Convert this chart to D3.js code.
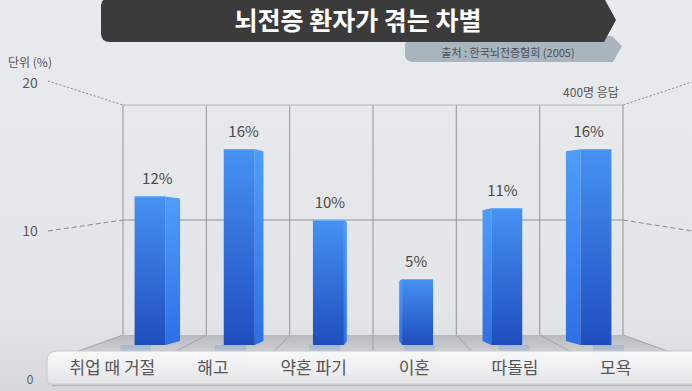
<!DOCTYPE html>
<html>
<head>
<meta charset="utf-8">
<script src="https://cdn.jsdelivr.net/npm/d3@7"></script>
<style>
  body { margin: 0; background: #e6e7ea; }
  svg { display: block; font-family: "Noto Sans CJK KR", "Noto Sans", sans-serif; }
</style>
</head>
<body>
<div id="chart"></div>
<script>
// Data
var categories = ["취업 때 거절", "해고", "약혼 파기", "이혼", "따돌림", "모욕"];
var values = [12, 16, 10, 5, 11, 16];
var yTicks = [0, 10, 20];
var titleText = "뇌전증 환자가 겪는 차별";
var sourceText = "출처 : 한국뇌전증협회 (2005)";
var unitText = "단위 (%)";
var noteText = "400명 응답";

var width = 692, height = 391;
var cx = 373; // vanishing centre of the perspective

var svg = d3.select("#chart").append("svg")
    .attr("width", width)
    .attr("height", height);

var defs = svg.append("defs");

var bg = defs.append("linearGradient").attr("id", "bg").attr("x1", 0).attr("y1", 0).attr("x2", 0).attr("y2", 1);
bg.append("stop").attr("offset", "0%").attr("stop-color", "#e9eaed");
bg.append("stop").attr("offset", "80%").attr("stop-color", "#e4e5e8");
bg.append("stop").attr("offset", "100%").attr("stop-color", "#d6d7da");

var front = defs.append("linearGradient").attr("id", "front").attr("x1", 0).attr("y1", 0).attr("x2", 0).attr("y2", 1);
front.append("stop").attr("offset", "0%").attr("stop-color", "#4692f2");
front.append("stop").attr("offset", "100%").attr("stop-color", "#1f4dbd");

var side = defs.append("linearGradient").attr("id", "side").attr("x1", 0).attr("y1", 0).attr("x2", 0).attr("y2", 1);
side.append("stop").attr("offset", "0%").attr("stop-color", "#4f9dfb");
side.append("stop").attr("offset", "100%").attr("stop-color", "#2f6ee6");

var floorG = defs.append("linearGradient").attr("id", "floor").attr("x1", 0).attr("y1", 0).attr("x2", 0).attr("y2", 1);
floorG.append("stop").attr("offset", "0%").attr("stop-color", "#b9babd");
floorG.append("stop").attr("offset", "100%").attr("stop-color", "#cfd0d3");

var band = defs.append("linearGradient").attr("id", "band").attr("x1", 0).attr("y1", 0).attr("x2", 0).attr("y2", 1);
band.append("stop").attr("offset", "0%").attr("stop-color", "#fbfbfb");
band.append("stop").attr("offset", "60%").attr("stop-color", "#efeff0");
band.append("stop").attr("offset", "100%").attr("stop-color", "#e2e3e5");

var refl = defs.append("linearGradient").attr("id", "refl").attr("x1", 0).attr("y1", 0).attr("x2", 0).attr("y2", 1);
refl.append("stop").attr("offset", "0%").attr("stop-color", "#6f9be0").attr("stop-opacity", 0.35);
refl.append("stop").attr("offset", "100%").attr("stop-color", "#6f9be0").attr("stop-opacity", 0);

svg.append("rect").attr("width", width).attr("height", height).attr("fill", "url(#bg)");

// Scales: back wall plane, front (bar) plane and label band
var xWall = d3.scaleBand().domain(categories).range([123, 623]);
var xFront = d3.scaleBand().domain(categories).range([cx - 250 * 1.07, cx + 250 * 1.07]);
var xLabel = d3.scaleBand().domain(categories).range([62, 666]);
var yWall = d3.scaleLinear().domain([0, 20]).range([335, 105]);
var yFront = d3.scaleLinear().domain([0, 20]).range([338, 102]);
var barBottom = 345;
var frontW = 31;

// Floor
var floorY = 353;
var fk = 1.2;
svg.append("path")
    .attr("d", "M" + xWall.range()[0] + "," + yWall(0) +
        "L" + xWall.range()[1] + "," + yWall(0) +
        "L" + (cx + (xWall.range()[1] - cx) * fk) + "," + floorY +
        "L" + (cx + (xWall.range()[0] - cx) * fk) + "," + floorY + "Z")
    .attr("fill", "url(#floor)");

var wallLines = categories.map(function (c) { return xWall(c); }).concat([xWall.range()[1]]);

svg.selectAll(".floor-line").data(wallLines).enter().append("line")
    .attr("class", "floor-line")
    .attr("x1", function (d) { return d; })
    .attr("y1", yWall(0))
    .attr("x2", function (d) { return cx + (d - cx) * fk; })
    .attr("y2", floorY)
    .attr("stroke", "#a4a5a8").attr("stroke-width", 1);

// Back wall grid
svg.selectAll(".wall-v").data(wallLines).enter().append("line")
    .attr("class", "wall-v")
    .attr("x1", function (d) { return d; })
    .attr("x2", function (d) { return d; })
    .attr("y1", yWall(20))
    .attr("y2", yWall(0))
    .attr("stroke", "#9fa0a3").attr("stroke-width", 1.2);

svg.selectAll(".wall-h").data(yTicks.slice(1)).enter().append("line")
    .attr("class", "wall-h")
    .attr("x1", xWall.range()[0]).attr("x2", xWall.range()[1])
    .attr("y1", function (d) { return yWall(d); })
    .attr("y2", function (d) { return yWall(d); })
    .attr("stroke", function (d) { return d === 20 ? "#b4b5b8" : "#8e8f92"; })
    .attr("stroke-width", 1.2);

// Dashed leader lines from tick labels to the wall (both sides)
var leftY = { 20: 81, 10: 231 };
var rightY = { 20: 82, 10: 231 };
svg.selectAll(".lead-l").data([10, 20]).enter().append("line")
    .attr("x1", 48).attr("y1", function (d) { return leftY[d]; })
    .attr("x2", xWall.range()[0]).attr("y2", function (d) { return yWall(d); })
    .attr("stroke", "#8a8b8e").attr("stroke-width", 1)
    .attr("stroke-dasharray", function (d) { return d === 20 ? "2,2" : "5,3"; });
svg.selectAll(".lead-r").data([10, 20]).enter().append("line")
    .attr("x1", xWall.range()[1]).attr("y1", function (d) { return yWall(d); })
    .attr("x2", width).attr("y2", function (d) { return rightY[d]; })
    .attr("stroke", "#8a8b8e").attr("stroke-width", 1)
    .attr("stroke-dasharray", function (d) { return d === 20 ? "2,2" : "5,3"; });

// Tick labels
svg.selectAll(".tick-label").data(yTicks).enter().append("text")
    .attr("x", 30)
    .attr("y", function (d) { return d === 20 ? 83 : d === 10 ? 231 : 380; })
    .attr("dy", "0.35em")
    .attr("text-anchor", "middle")
    .attr("font-size", function (d) { return d === 0 ? 12 : 14; })
    .attr("fill", "#5a5a5a")
    .text(function (d) { return d; });

svg.append("text").attr("x", 8).attr("y", 67)
    .attr("font-size", 12).attr("fill", "#555")
    .text(unitText);

svg.append("text").attr("x", 591).attr("y", 97)
    .attr("text-anchor", "middle")
    .attr("font-size", 12).attr("fill", "#555")
    .text(noteText);

// Bars
function frontCenter(c) {
    return xFront(c) + xFront.bandwidth() / 2;
}
function sideW(c) {
    return Math.abs(frontCenter(c) - cx) * 0.065;
}

var bars = svg.selectAll(".bar").data(categories).enter().append("g").attr("class", "bar");

bars.append("path")
    .attr("d", function (c, i) {
        var fc = frontCenter(c), s = sideW(c), top = yFront(values[i]);
        var x0, x1;
        if (fc < cx) { x0 = fc + frontW / 2; x1 = x0 + s; }
        else { x0 = fc - frontW / 2; x1 = x0 - s; }
        return "M" + x0 + "," + top + "L" + x1 + "," + (top + 2) +
            "L" + x1 + "," + (barBottom - 4) + "L" + x0 + "," + barBottom + "Z";
    })
    .attr("fill", "url(#side)");

bars.append("rect")
    .attr("x", function (c) { return frontCenter(c) - frontW / 2; })
    .attr("y", function (c, i) { return yFront(values[i]); })
    .attr("width", frontW)
    .attr("height", function (c, i) { return barBottom - yFront(values[i]); })
    .attr("fill", "url(#front)");

bars.append("line")
    .attr("x1", function (c) { return frontCenter(c) - frontW / 2; })
    .attr("x2", function (c) { return frontCenter(c) + frontW / 2; })
    .attr("y1", function (c, i) { return yFront(values[i]) + 0.5; })
    .attr("y2", function (c, i) { return yFront(values[i]) + 0.5; })
    .attr("stroke", "#6aaefc").attr("stroke-width", 1);

bars.append("text")
    .attr("x", function (c) {
        var fc = frontCenter(c), s = sideW(c);
        return fc < cx ? fc + s / 2 : fc - s / 2;
    })
    .attr("y", function (c, i) { return yFront(values[i]) - 12; })
    .attr("text-anchor", "middle")
    .attr("font-size", 15)
    .attr("fill", "#4a4a4a")
    .text(function (c, i) { return values[i] + "%"; });

// Reflection of the bars on the floor
svg.selectAll(".refl").data(categories).enter().append("rect")
    .attr("class", "refl")
    .attr("x", function (c) { return cx + (frontCenter(c) - frontW / 2 - cx) * 1.06; })
    .attr("y", barBottom)
    .attr("width", frontW)
    .attr("height", 24)
    .attr("fill", "url(#refl)");

// Label band
svg.append("path")
    .attr("d", "M58,351 L" + (width + 5) + ",351 L" + (width + 5) + ",384 L52,384 Q47,384 47,378 L47,361 Q47,351 58,351 Z")
    .attr("fill", "url(#band)")
    .attr("fill-opacity", 0.93)
    .attr("stroke", "#c9cacd").attr("stroke-width", 1);
svg.append("line").attr("x1", 52).attr("x2", width).attr("y1", 385.5).attr("y2", 385.5)
    .attr("stroke", "#b9babd").attr("stroke-width", 1.5);

svg.selectAll(".cat-label").data(categories).enter().append("text")
    .attr("class", "cat-label")
    .attr("x", function (c) { return xLabel(c) + xLabel.bandwidth() / 2; })
    .attr("y", 368)
    .attr("dy", "0.36em")
    .attr("text-anchor", "middle")
    .attr("font-size", 17)
    .attr("fill", "#555")
    .text(function (c) { return c; });

// Title banner with source tab
svg.append("path")
    .attr("d", "M412,36 L612,36 L622,46 L613,62 L414,62 Q405,62 405,55 L405,44 Z")
    .attr("fill", "#a8b5be");
svg.append("text").attr("x", 508).attr("y", 53)
    .attr("dy", "0.35em")
    .attr("text-anchor", "middle")
    .attr("font-size", 11).attr("fill", "#4a4f55")
    .text(sourceText);

svg.append("path")
    .attr("d", "M110,-2 L604,-2 L616,20 L604,42 L110,42 Q101,42 101,33 L101,7 Q101,-2 110,-2 Z")
    .attr("fill", "#3b3b3c");
svg.append("text").attr("x", 358).attr("y", 21)
    .attr("dy", "0.36em")
    .attr("text-anchor", "middle")
    .attr("font-size", 25).attr("font-weight", "bold")
    .attr("fill", "#ffffff")
    .text(titleText);
</script>
</body>
</html>
